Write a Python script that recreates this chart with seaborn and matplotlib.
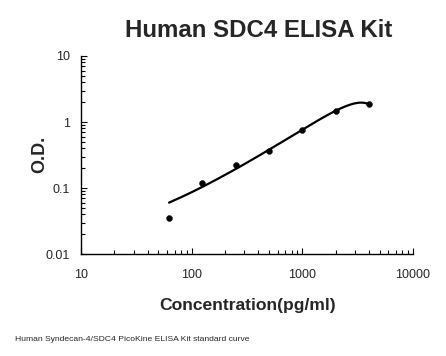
import numpy as np
import pandas as pd
import matplotlib
matplotlib.use('Agg')
import matplotlib.pyplot as plt
import seaborn as sns
from matplotlib.ticker import LogLocator, FixedLocator, FixedFormatter

# standard curve data
conc = [62.5, 125, 250, 500, 1000, 2000, 4000]
od = [0.035, 0.118, 0.221, 0.364, 0.764, 1.48, 1.85]

x_ticks = [10, 100, 1000, 10000]
x_labels = ['10', '100', '1000', '10000']
y_ticks = [0.01, 0.1, 1, 10]
y_labels = ['0.01', '0.1', '1', '10']

sns.set_style('white')
plt.rcParams['font.family'] = ['Liberation Sans', 'DejaVu Sans']

data = pd.DataFrame({'conc': conc, 'od': od})

# polynomial trendline (linear space, like a spreadsheet trendline)
coef = np.polyfit(data['conc'], data['od'], 3)
xs = np.linspace(min(conc), max(conc), 400)
fit = pd.DataFrame({'conc': xs, 'od': np.polyval(coef, xs)})

fig = plt.figure(figsize=(4.46, 3.56), dpi=100)
ax = fig.add_axes([0.1816, 0.2865, 0.926 - 0.1816, 0.8427 - 0.2865])

sns.lineplot(data=fit, x='conc', y='od', color='black', linewidth=1.6, ax=ax)
sns.scatterplot(data=data, x='conc', y='od', color='black', s=18, edgecolor='black', zorder=3, ax=ax)

ax.set_xscale('log')
ax.set_yscale('log')
ax.set_xlim(10, 10000)
ax.set_ylim(0.01, 10)
ax.xaxis.set_major_locator(FixedLocator(x_ticks))
ax.xaxis.set_major_formatter(FixedFormatter(x_labels))
ax.yaxis.set_major_locator(FixedLocator(y_ticks))
ax.yaxis.set_major_formatter(FixedFormatter(y_labels))
ax.xaxis.set_minor_locator(LogLocator(base=10, subs=np.arange(2, 10)))
ax.yaxis.set_minor_locator(LogLocator(base=10, subs=np.arange(2, 10)))
ax.tick_params(which='major', direction='in', length=4, width=0.8, labelsize=9, color='black')
ax.tick_params(which='minor', direction='in', length=3, width=0.8, color='black')
ax.tick_params(axis='x', which='both', bottom=True, pad=11)
ax.tick_params(axis='y', which='both', left=True, pad=8)

for side in ['top', 'right']:
    ax.spines[side].set_visible(False)
for side in ['left', 'bottom']:
    ax.spines[side].set_color('black')
    ax.spines[side].set_linewidth(1)

ax.set_xlabel('')
ax.set_ylabel('')
fig.text(0.556, 0.143, 'Concentration(pg/ml)', ha='center', va='center', fontsize=12.6, fontweight='bold')
fig.text(0.09, 0.565, 'O.D.', ha='center', va='center', rotation=90, fontsize=13, fontweight='bold')
fig.text(0.581, 0.915, 'Human SDC4 ELISA Kit', ha='center', va='center', fontsize=17.3, fontweight='bold')
fig.text(0.034, 0.045, 'Human Syndecan-4/SDC4 PicoKine ELISA Kit standard curve', ha='left', va='center', fontsize=6.1)

fig.savefig('out.png', dpi=100, facecolor='white')
